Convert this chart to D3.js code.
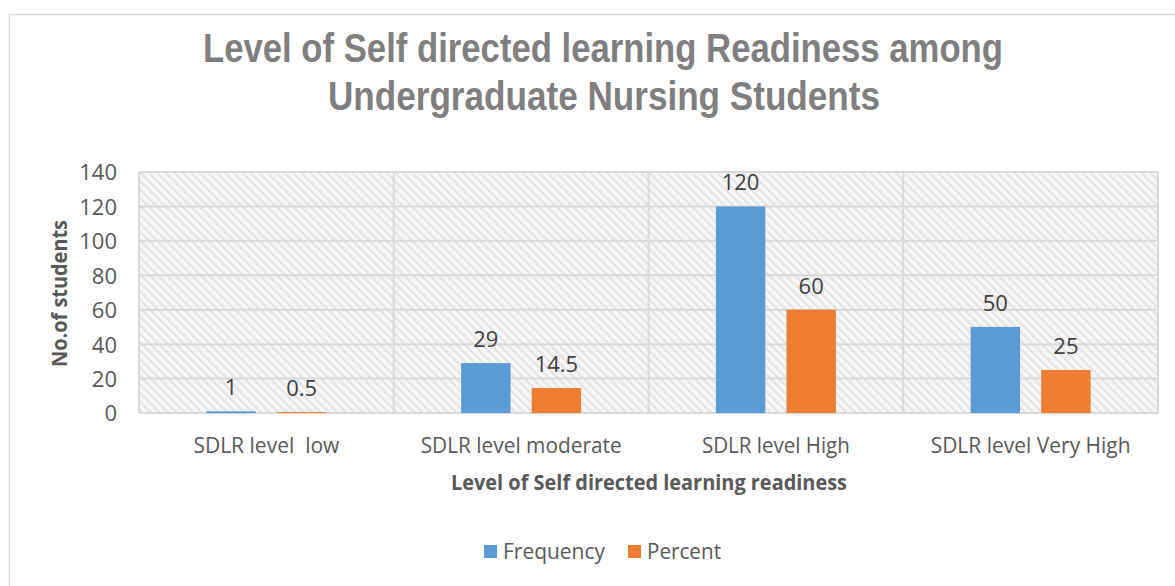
<!DOCTYPE html>
<html>
<head>
<meta charset="utf-8">
<script src="https://cdn.jsdelivr.net/npm/d3@7"></script>
<style>
  html, body { margin: 0; padding: 0; background: #fff; }
  svg { display: block; font-family: "Open Sans", "Liberation Sans", sans-serif; }
</style>
</head>
<body>
<svg id="chart" width="1175" height="586"></svg>
<script>
const categories = ["SDLR level  low", "SDLR level moderate", "SDLR level High", "SDLR level Very High"];
const seriesNames = ["Frequency", "Percent"];
const frequency = [1, 29, 120, 50];
const percent = [0.5, 14.5, 60, 25];
const yTicks = [0, 20, 40, 60, 80, 100, 120, 140];
const colors = ["#5B9BD5", "#ED7D31"];
const titleLines = ["Level of Self directed learning Readiness among", "Undergraduate Nursing Students"];
const xTitle = "Level of Self directed learning readiness";
const yTitle = "No.of students";

const svg = d3.select("#chart");
const m = { left: 139, right: 1158, top: 172, bottom: 413 };
const OPEN = "\"Open Sans\", sans-serif";

// hatch pattern
const defs = svg.append("defs");
const pat = defs.append("pattern")
  .attr("id", "hatch").attr("patternUnits", "userSpaceOnUse")
  .attr("width", 6).attr("height", 6)
  .attr("patternTransform", "rotate(-45)");
pat.append("rect").attr("width", 6).attr("height", 6).attr("fill", "#f7f7f7");
pat.append("rect").attr("x", 0).attr("width", 2.2).attr("height", 6).attr("fill", "#e3e3e3");

// outer border
svg.append("rect").attr("x", 9.5).attr("y", 14.5).attr("width", 1200).attr("height", 600)
  .attr("fill", "#fff").attr("stroke", "#d9d9d9").attr("stroke-width", 1.5);

// title
const titleLens = [800, 552];
const titleXs = [203, 328];
titleLines.forEach((t, i) => {
  svg.append("text").attr("x", titleXs[i]).attr("y", 62 + i * 48)
    .style("font-family", "\"Liberation Sans\", Arial, sans-serif")
    .attr("font-size", 41).attr("font-weight", "bold").attr("fill", "#7f7f7f")
    .attr("textLength", titleLens[i]).attr("lengthAdjust", "spacingAndGlyphs")
    .text(t);
});

const x0 = d3.scaleBand().domain(categories).range([m.left, m.right]).paddingInner(0).paddingOuter(0);
const x1 = d3.scaleBand().domain(seriesNames).range([0, x0.bandwidth()]).paddingInner(0.3).paddingOuter(0.955);
const y = d3.scaleLinear().domain([0, 140]).range([m.bottom, m.top]);

// plot background
svg.append("rect").attr("x", m.left).attr("y", m.top)
  .attr("width", m.right - m.left).attr("height", m.bottom - m.top)
  .attr("fill", "url(#hatch)");

// horizontal gridlines
svg.append("g").selectAll("line").data(yTicks).join("line")
  .attr("x1", m.left).attr("x2", m.right)
  .attr("y1", d => y(d)).attr("y2", d => y(d))
  .attr("stroke", "#d9d9d9").attr("stroke-width", 2);

// vertical gridlines (category dividers)
const vDiv = categories.map(c => x0(c)).concat([m.right]);
svg.append("g").selectAll("line").data(vDiv).join("line")
  .attr("x1", d => d).attr("x2", d => d)
  .attr("y1", m.top).attr("y2", m.bottom)
  .attr("stroke", "#d9d9d9").attr("stroke-width", 2);

// y axis labels
const yAxis = d3.axisLeft(y).tickValues(yTicks).tickSize(0).tickPadding(0);
const gy = svg.append("g").attr("transform", `translate(${m.left - 22},0)`).call(yAxis);
gy.attr("font-family", null).attr("font-size", null);
gy.select(".domain").remove();
gy.selectAll("text").attr("font-size", 22).attr("fill", "#595959")
  .style("font-family", OPEN)
  .attr("dy", "0.36em");

// x axis labels
const xAxis = d3.axisBottom(x0).tickSize(0).tickPadding(0);
const gx = svg.append("g").attr("transform", `translate(0,${m.bottom})`).call(xAxis);
gx.attr("font-family", null).attr("font-size", null);
gx.select(".domain").remove();
const catWidths = [146, 201, 148, 200];
gx.selectAll("text").attr("font-size", 22).attr("fill", "#595959")
  .style("font-family", OPEN)
  .style("white-space", "pre")
  .attr("dy", 0).attr("y", 40)
  .attr("textLength", (d, i) => catWidths[i]).attr("lengthAdjust", "spacingAndGlyphs");

// bars
const data = categories.map((c, i) => ({ cat: c, values: [frequency[i], percent[i]] }));
const groups = svg.append("g").selectAll("g").data(data).join("g")
  .attr("transform", d => `translate(${x0(d.cat)},0)`);
groups.selectAll("rect").data(d => d.values.map((v, j) => ({ s: seriesNames[j], v, j }))).join("rect")
  .attr("x", d => x1(d.s)).attr("width", x1.bandwidth())
  .attr("y", d => y(d.v)).attr("height", d => y(0) - y(d.v))
  .attr("fill", d => colors[d.j]);
groups.selectAll("text").data(d => d.values.map((v, j) => ({ s: seriesNames[j], v, j }))).join("text")
  .attr("x", d => x1(d.s) + x1.bandwidth() / 2).attr("y", d => y(d.v) - 16)
  .attr("text-anchor", "middle").attr("font-size", 22).attr("fill", "#404040")
  .style("font-family", OPEN)
  .text(d => d.v);

// x title
svg.append("text").attr("x", 451).attr("y", 490)
  .style("font-family", OPEN)
  .attr("font-size", 21).attr("font-weight", "bold").attr("fill", "#595959")
  .attr("textLength", 396).attr("lengthAdjust", "spacingAndGlyphs")
  .text(xTitle);

// y title
svg.append("text").attr("transform", "translate(67,367) rotate(-90)")
  .style("font-family", OPEN)
  .attr("font-size", 21).attr("font-weight", "bold").attr("fill", "#595959")
  .attr("textLength", 147).attr("lengthAdjust", "spacingAndGlyphs")
  .text(yTitle);

// legend
const legX = [484, 628];
const legW = [102, 74];
seriesNames.forEach((s, i) => {
  svg.append("rect").attr("x", legX[i]).attr("y", 545).attr("width", 13).attr("height", 13).attr("fill", colors[i]);
  svg.append("text").attr("x", legX[i] + 19).attr("y", 559)
    .style("font-family", OPEN)
    .attr("font-size", 22).attr("fill", "#595959")
    .attr("textLength", legW[i]).attr("lengthAdjust", "spacingAndGlyphs")
    .text(s);
});
</script>
</body>
</html>
